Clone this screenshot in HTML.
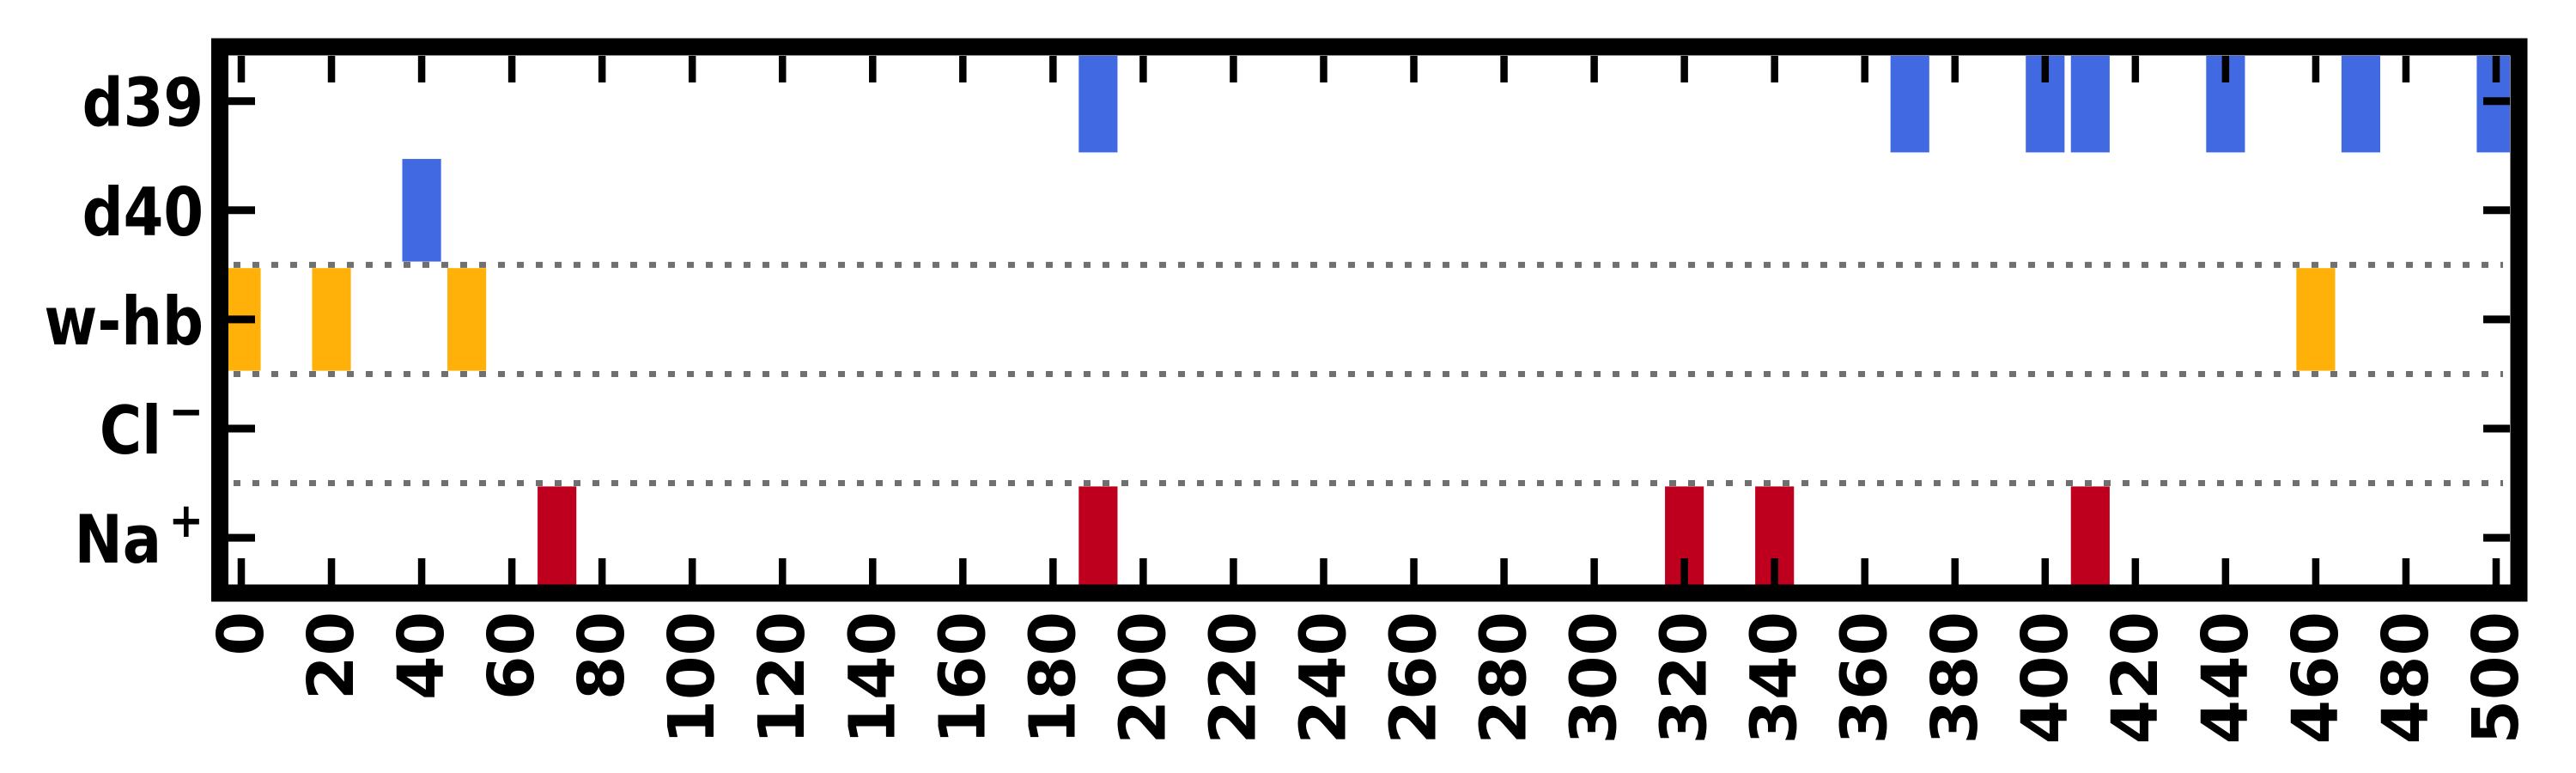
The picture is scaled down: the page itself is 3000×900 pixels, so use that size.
<!DOCTYPE html>
<html><head><meta charset="utf-8"><style>
html,body{margin:0;padding:0;background:#fff;}
svg{display:block;font-family:"DejaVu Sans","Liberation Sans",sans-serif;font-weight:bold;}
</style></head><body>
<svg id="chart" width="3000" height="900" viewBox="0 0 3000 900" xmlns="http://www.w3.org/2000/svg">
<defs><clipPath id="plotclip"><rect x="266" y="65" width="2657" height="616"/></clipPath></defs>
<g id="grid"></g>
<g id="bars" clip-path="url(#plotclip)"></g>
<g id="ticks"></g>
<rect x="256" y="54.5" width="2677.5" height="636" fill="none" stroke="#000" stroke-width="20"/>
</svg>
<script>
const categories = ["d39","d40","w-hb","Cl","Na"];
const d39Times = [190,370,400,410,440,470,500];
const d40Times = [40];
const whbTimes = [0,20,50,460];
const clTimes = [];
const naTimes = [70,190,320,340,410];
const xTicks = [0,20,40,60,80,100,120,140,160,180,200,220,240,260,280,300,320,340,360,380,400,420,440,460,480,500];
const barWidth = 8.6;

const NS = "http://www.w3.org/2000/svg";
const svg = document.getElementById('chart');
function x(v){ return 281 + 5.252*v; }
function y(i){ return 117.7 + 127.1*i; }
function mk(tag, attrs, parent){ const e=document.createElementNS(NS,tag); for(const k in attrs) e.setAttribute(k,attrs[k]); parent.appendChild(e); return e; }

const grid = document.getElementById('grid');
[1.5,2.5,3.5].forEach(p=>{
  const l = mk('line',{x1:272,x2:2915,y1:y(p),y2:y(p),stroke:'#707070','stroke-width':7,'stroke-dasharray':'8 14'},grid);
  
  
});

const bars = document.getElementById('bars');
const series = [[d39Times,0,'#4169e1','d39'],[d40Times,1,'#4169e1','d40'],[whbTimes,2,'#ffb10a','w-hb'],[clTimes,3,'#2e8b57','cl'],[naTimes,4,'#be001e','na']];
series.forEach(([arr,row,col,nm])=>{
  arr.forEach(t=>{
    const r = mk('rect',{x:x(t-barWidth/2),y:y(row-0.47),width:x(barWidth)-x(0),height:127.1*0.94,fill:col},bars);
    
    
  });
});

const ticks = document.getElementById('ticks');
xTicks.forEach(v=>{
  const a = mk('line',{x1:x(v),x2:x(v),y1:65,y2:96,stroke:'#000','stroke-width':8.5},ticks);
  
  
  const b = mk('line',{x1:x(v),x2:x(v),y1:650,y2:681,stroke:'#000','stroke-width':8.5},ticks);
  
  
  const t = mk('text',{x:0,y:0,'font-size':74,'text-anchor':'end','dominant-baseline':'central',transform:'translate('+x(v)+',712) rotate(-90)'},ticks);
  t.textContent = v;
  
  
});
const sup = {Cl:'−', Na:'+'};
categories.forEach((c,i)=>{
  const a = mk('line',{x1:266,x2:297,y1:y(i),y2:y(i),stroke:'#000','stroke-width':9},ticks);
  
  
  const b = mk('line',{x1:2892,x2:2923,y1:y(i),y2:y(i),stroke:'#000','stroke-width':9},ticks);
  
  
  const t = mk('text',{x:0,y:0,'font-size':78,'text-anchor':'end',transform:'translate(237,'+(y(i)+29)+') scale(0.86,1)'},ticks);
  
  
  if(sup[c]){
    t.appendChild(document.createTextNode(c));
    const s = mk('tspan',{'font-size':56,dy:-30,dx:10},t);
    s.textContent = sup[c];
  } else t.textContent = c;
});
</script>
</body></html>
